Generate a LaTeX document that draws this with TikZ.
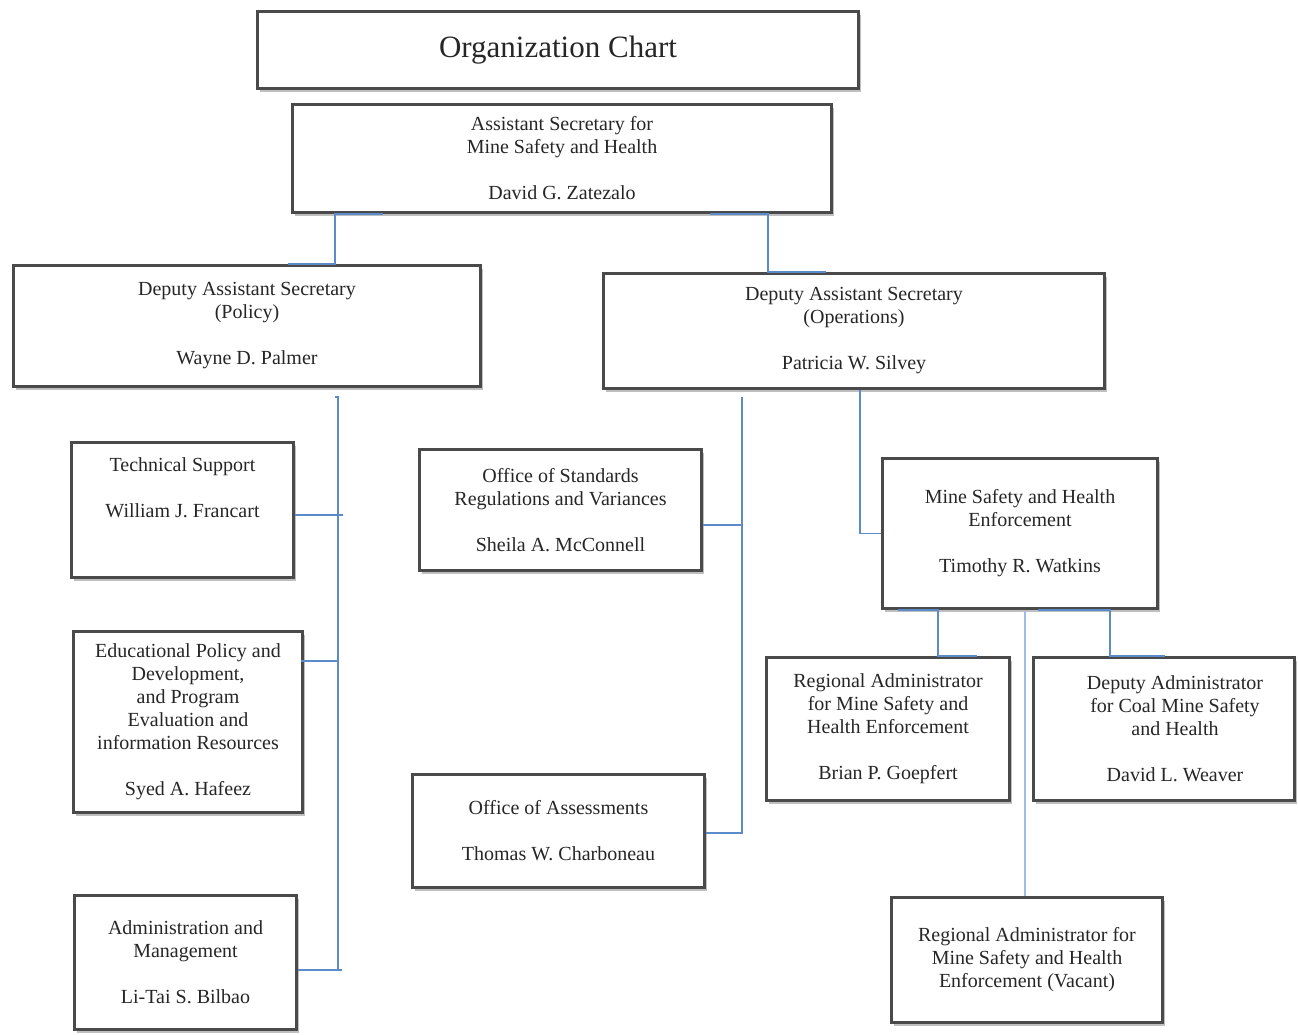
\documentclass[tikz,border=0pt]{standalone}
\usepackage{fontspec}
\setmainfont{Liberation Serif}
\newfontfamily\chartfont{Liberation Serif}
\usetikzlibrary{shadows,calc}
\definecolor{conncol}{HTML}{5B8BCB}
\definecolor{connlight}{HTML}{9DBDE6}
\definecolor{boxborder}{HTML}{4A4A4A}
\tikzset{
  orgbox/.style={draw=boxborder, line width=3.4pt, fill=white, inner sep=0pt,
    align=center, font=\chartfont\fontsize{20}{23}\selectfont, text=black!85,
    drop shadow={shadow xshift=2.5pt, shadow yshift=-3pt, fill=black, opacity=0.25}},
  conn/.style={draw=conncol, line width=1.6pt},
  connl/.style={draw=connlight, line width=1.3pt},
}
\newcommand{\gapline}{\\[23pt]}
\begin{document}
\begin{tikzpicture}[x=1pt,y=-1pt]
\useasboundingbox (0,0) rectangle (1298,1034);
\fill[white] (0,0) rectangle (1298,1034);

\node[orgbox, minimum width=601, minimum height=77, font=\chartfont\fontsize{31}{35}\selectfont] (title) at (558,50) {Organization Chart};
\node[orgbox, minimum width=539, minimum height=108] (asst) at (562,158.5)
  {\rule{0pt}{4pt}Assistant Secretary for\\Mine Safety and Health\gapline David G. Zatezalo};
\node[orgbox, minimum width=467, minimum height=121] (pol) at (247,326)
  {\rule{0pt}{4pt}Deputy Assistant Secretary\\(Policy)\gapline Wayne D. Palmer};
\node[orgbox, minimum width=501, minimum height=115] (ops) at (854,331)
  {\rule{0pt}{4pt}Deputy Assistant Secretary\\(Operations)\gapline Patricia W. Silvey};
\node[orgbox, minimum width=222, minimum height=135] (tech) at (182.5,510)
  {Technical Support\gapline William J. Francart\\[15pt]\strut};
\node[orgbox, minimum width=229, minimum height=181] (edu) at (188,722)
  {Educational Policy and\\Development,\\and Program\\Evaluation and\\information Resources\gapline Syed A. Hafeez};
\node[orgbox, minimum width=222, minimum height=134] (adm) at (185.5,962.5)
  {\rule{0pt}{4pt}Administration and\\Management\gapline Li-Tai S. Bilbao};
\node[orgbox, minimum width=282, minimum height=121] (std) at (560.5,510)
  {\rule{0pt}{4pt}Office of Standards\\Regulations and Variances\gapline Sheila A. McConnell};
\node[orgbox, minimum width=292, minimum height=113] (asm) at (558.5,831)
  {\rule{0pt}{4pt}Office of Assessments\gapline Thomas W. Charboneau};
\node[orgbox, minimum width=275, minimum height=150] (mshe) at (1020,533.5)
  {\rule{0pt}{4pt}Mine Safety and Health\\Enforcement\gapline Timothy R. Watkins};
\node[orgbox, minimum width=243, minimum height=143] (brian) at (888,729)
  {\rule{0pt}{4pt}Regional Administrator\\for Mine Safety and\\Health Enforcement\gapline Brian P. Goepfert};
\node[orgbox, minimum width=261, minimum height=143] (coal) at (1164,729)
  {\hspace*{22pt}Deputy Administrator\\\hspace*{22pt}for Coal Mine Safety\\\hspace*{22pt}and Health\gapline\hspace*{22pt}David L. Weaver};
\node[orgbox, minimum width=271, minimum height=125] (vac) at (1027,960)
  {Regional Administrator for\\Mine Safety and Health\\Enforcement (Vacant)};

% top level connectors
\draw[conn] ($(asst.south)+(-179,0)$) -- ++(-48,0) |- ($(pol.north)+(41,0)$);
\draw[conn] ($(asst.south)+(148,0)$) -- ++(58,0) |- ($(ops.north)+(-28,0)$);

% policy bus
\coordinate (pbtop) at ($(pol.south)+(91,9)$);
\coordinate (pbbot) at ($(adm.east)+(40,7.5)$);
\draw[conn] ($(pbtop)+(-3,0)$) -- (pbtop) -- (pbtop |- pbbot);
\draw[conn] ($(tech.east)+(0,5)$) -- ++(48,0);
\draw[conn] ($(edu.east)+(-3,-61)$) -- ++(38,0);
\draw[conn] ($(adm.east)+(0,7.5)$) -- ++(44,0);

% operations bus
\coordinate (obtop) at ($(ops.south)+(-112,7)$);
\coordinate (obbot) at ($(asm.east)+(36,3)$);
\draw[conn] (obtop) -- (obtop |- obbot);
\draw[conn] ($(std.east)+(0,15)$) -- ++(39,0);
\draw[conn] ($(asm.east)+(0,2)$) -- ++(36,0);

% operations to enforcement
\draw[conn] ($(ops.south)+(6,0)$) |- (mshe.west);

% enforcement subordinates
\draw[conn] ($(mshe.south)+(-122,0)$) -- ++(40,0) |- ($(brian.north)+(89,0)$);
\draw[conn] ($(mshe.south)+(18,0)$) -- ++(72,0) |- ($(coal.north)+(1,0)$);
\coordinate (mv) at ($(mshe.south)+(5,1)$);
\draw[connl] (mv) -- (mv |- vac.north);
\end{tikzpicture}
\end{document}
